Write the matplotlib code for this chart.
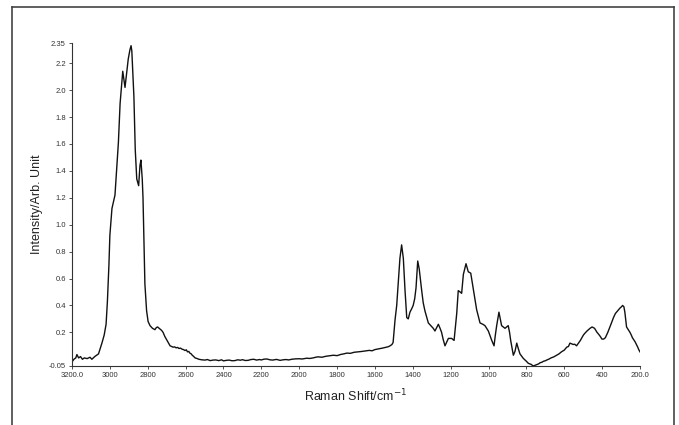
import numpy as np
import matplotlib
matplotlib.use("Agg")
from matplotlib import pyplot as plt
from matplotlib.lines import Line2D

# Raman spectrum, shift in cm-1 (descending) and intensity in arbitrary units
shift = [3200, 3190, 3180, 3174, 3165, 3155, 3145, 3135, 3120, 3105, 3095, 3080,
         3060, 3042, 3030, 3020, 3013, 3005, 3000, 2989, 2973, 2955, 2946, 2940,
         2932, 2920, 2911, 2903, 2894, 2888, 2884, 2879, 2873, 2866, 2858, 2848,
         2841, 2836, 2829, 2825, 2821, 2815, 2806, 2798, 2788, 2775, 2762, 2755,
         2748, 2735, 2727, 2719, 2710, 2698, 2690, 2682, 2674, 2666, 2658, 2650,
         2642, 2635, 2627, 2619, 2611, 2603, 2596, 2590, 2583, 2577, 2570, 2565,
         2558, 2550, 2540, 2530, 2515, 2497, 2485, 2470, 2455, 2440, 2425, 2410,
         2400, 2385, 2370, 2355, 2340, 2325, 2310, 2300, 2285, 2270, 2255, 2240,
         2225, 2210, 2200, 2185, 2170, 2155, 2140, 2120, 2101, 2085, 2070, 2055,
         2040, 2020, 2000, 1985, 1960, 1945, 1927, 1910, 1900, 1880, 1860, 1840,
         1820, 1800, 1780, 1765, 1748, 1730, 1710, 1690, 1670, 1650, 1630, 1615,
         1600, 1585, 1573, 1560, 1545, 1530, 1520, 1510, 1504, 1494, 1485, 1477,
         1468, 1459, 1450, 1441, 1432, 1424, 1415, 1406, 1398, 1390, 1383, 1374,
         1366, 1353, 1345, 1336, 1318, 1305, 1292, 1283, 1265, 1256, 1248, 1240,
         1230, 1220, 1212, 1195, 1182, 1168, 1160, 1150, 1142, 1133, 1119, 1113,
         1107, 1094, 1080, 1063, 1045, 1030, 1019, 1001, 983, 971, 964, 957,
         945, 938, 931, 913, 896, 889, 883, 869, 860, 851, 843, 834,
         816, 800, 790, 775, 764, 755, 745, 735, 728, 718, 710, 700,
         693, 680, 670, 655, 640, 628, 615, 600, 587, 578, 570, 562,
         553, 545, 535, 525, 515, 507, 499, 490, 480, 472, 464, 453,
         440, 427, 418, 410, 401, 392, 383, 370, 356, 348, 340, 330,
         318, 306, 298, 292, 285, 280, 271, 262, 253, 246, 240, 233,
         226, 219, 212, 206, 200]
intensity = [-0.02, 0.0, 0.01, 0.035, 0.01, 0.02, 0.0, 0.01, 0.005, 0.015, 0.0, 0.02,
             0.04, 0.12, 0.18, 0.26, 0.43, 0.70, 0.92, 1.12, 1.22, 1.61, 1.90, 2.00,
             2.14, 2.02, 2.13, 2.23, 2.30, 2.33, 2.29, 2.14, 1.95, 1.56, 1.34, 1.29,
             1.44, 1.48, 1.34, 1.20, 0.95, 0.56, 0.36, 0.28, 0.25, 0.23, 0.22, 0.235,
             0.24, 0.225, 0.215, 0.20, 0.17, 0.14, 0.12, 0.10, 0.095, 0.09, 0.092, 0.085,
             0.088, 0.08, 0.083, 0.075, 0.072, 0.065, 0.07, 0.055, 0.058, 0.045, 0.04, 0.03,
             0.022, 0.01, 0.006, 0.0, -0.004, -0.006, -0.002, -0.01, -0.006, -0.005, -0.01, -0.004,
             -0.012, -0.008, -0.006, -0.011, -0.01, -0.004, -0.007, -0.003, -0.009, -0.008, -0.002, 0.0,
             -0.006, -0.002, -0.005, 0.001, 0.002, -0.004, -0.006, -0.001, -0.008, -0.004, -0.002, -0.005,
             0.0, 0.003, 0.004, 0.002, 0.008, 0.006, 0.01, 0.016, 0.018, 0.015, 0.022, 0.026,
             0.03, 0.027, 0.036, 0.04, 0.046, 0.044, 0.052, 0.055, 0.058, 0.062, 0.066, 0.063,
             0.072, 0.076, 0.08, 0.083, 0.088, 0.093, 0.10, 0.11, 0.125, 0.29, 0.40, 0.56,
             0.75, 0.85, 0.75, 0.51, 0.31, 0.30, 0.35, 0.375, 0.40, 0.45, 0.53, 0.73,
             0.67, 0.51, 0.42, 0.36, 0.27, 0.25, 0.23, 0.21, 0.26, 0.23, 0.20, 0.15,
             0.10, 0.13, 0.155, 0.155, 0.14, 0.34, 0.51, 0.50, 0.49, 0.63, 0.71, 0.68,
             0.65, 0.64, 0.52, 0.37, 0.27, 0.26, 0.25, 0.21, 0.14, 0.10, 0.18, 0.25,
             0.35, 0.30, 0.25, 0.23, 0.25, 0.20, 0.14, 0.03, 0.06, 0.12, 0.08, 0.04,
             0.006, -0.015, -0.03, -0.038, -0.05, -0.045, -0.04, -0.034, -0.026, -0.022, -0.015, -0.011,
             -0.006, 0.002, 0.01, 0.018, 0.03, 0.04, 0.055, 0.068, 0.09, 0.095, 0.12, 0.115,
             0.11, 0.112, 0.10, 0.12, 0.14, 0.16, 0.18, 0.195, 0.21, 0.22, 0.23, 0.24,
             0.23, 0.20, 0.185, 0.17, 0.15, 0.15, 0.16, 0.20, 0.25, 0.28, 0.31, 0.34,
             0.36, 0.38, 0.39, 0.40, 0.39, 0.35, 0.24, 0.22, 0.20, 0.18, 0.16, 0.145,
             0.13, 0.11, 0.09, 0.07, 0.055]

xticks = list(range(3200, 199, -200))
xticklabels = ["3200.0"] + [str(v) for v in xticks[1:-1]] + ["200.0"]
yticks = [-0.05, 0.2, 0.4, 0.6, 0.8, 1.0, 1.2, 1.4, 1.6, 1.8, 2.0, 2.2, 2.35]
yticklabels = ["-0.05", "0.2", "0.4", "0.6", "0.8", "1.0", "1.2", "1.4", "1.6",
               "1.8", "2.0", "2.2", "2.35"]

plt.rcParams['font.family'] = ['Liberation Sans', 'DejaVu Sans']

W, H = 679, 425
fig = plt.figure(figsize=(W / 100, H / 100), dpi=100)
ax = fig.add_axes([72 / W, 1 - 366 / H, (640 - 72) / W, (366 - 43) / H])

ax.plot(shift, intensity, color='#111111', linewidth=1.0)

ax.set_xlim(3200, 200)
ax.set_ylim(-0.05, 2.35)
ax.set_xticks(xticks)
ax.set_xticklabels(xticklabels)
ax.set_yticks(yticks)
ax.set_yticklabels(yticklabels)
ax.tick_params(labelsize=5.5, length=2.5, width=0.6, pad=2, colors='#333333')

for side in ['top', 'right']:
    ax.spines[side].set_visible(False)
for side in ['left', 'bottom']:
    ax.spines[side].set_linewidth(0.8)
    ax.spines[side].set_color('#333333')

ax.set_xlabel('Raman Shift/cm$^{-1}$', fontsize=9, color='#222222', labelpad=6)
ax.set_ylabel('Intensity/Arb. Unit', fontsize=9, color='#222222', labelpad=4)

# frame around the figure, open at the bottom
frame_kw = dict(color='#444444', linewidth=1.2, transform=fig.transFigure)
l, r, t = 11.5 / W, 673.5 / W, 1 - 6.5 / H
fig.add_artist(Line2D([l, l], [0, t], **frame_kw))
fig.add_artist(Line2D([l, r], [t, t], **frame_kw))
fig.add_artist(Line2D([r, r], [0, t], **frame_kw))

fig.savefig('out.png', dpi=100)
